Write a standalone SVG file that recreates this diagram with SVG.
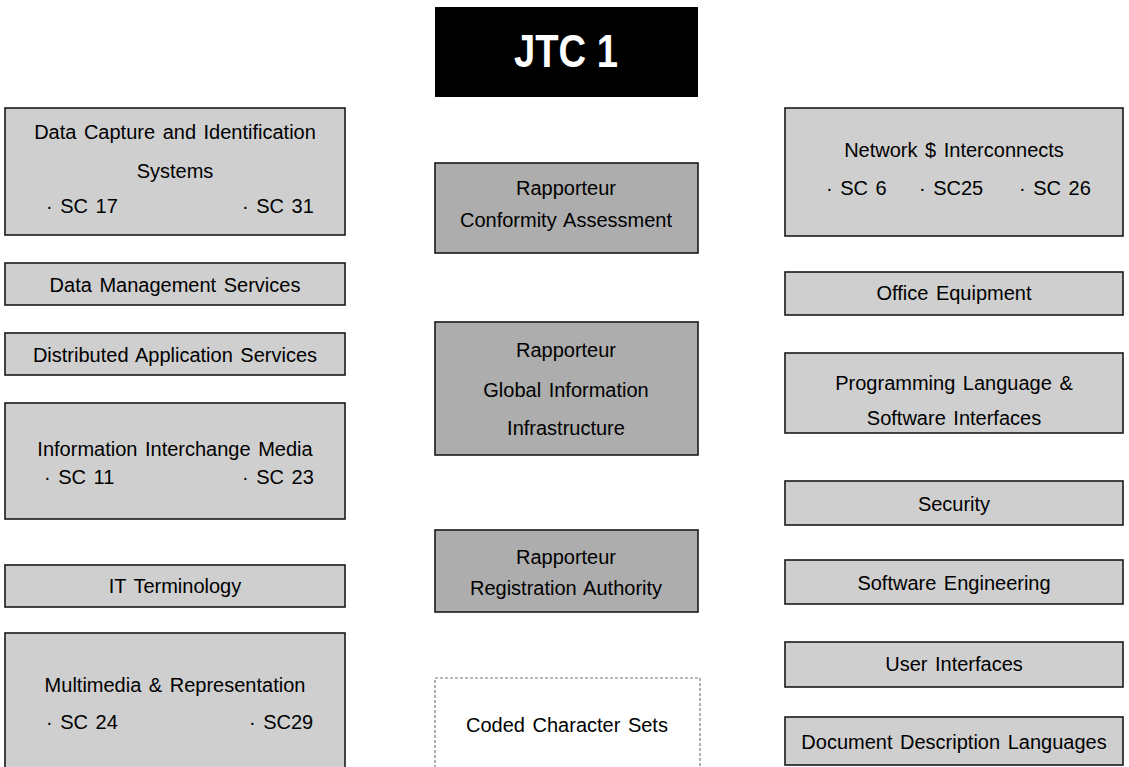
<svg xmlns="http://www.w3.org/2000/svg" width="1129" height="767" viewBox="0 0 1129 767">
<style>
.box{fill:#cfcfcf;stroke:#1a1a1a;stroke-width:1.6}
.rap{fill:#adadad;stroke:#1a1a1a;stroke-width:1.6}
.coded{fill:#ffffff;stroke:#777;stroke-width:1.2;stroke-dasharray:3 2}
.t{font-family:"Liberation Sans",Arial,sans-serif;font-size:20px;fill:#000;text-anchor:middle;word-spacing:2px}
.s{font-family:"Liberation Sans",Arial,sans-serif;font-size:20px;fill:#000;word-spacing:2px}
.jtc{font-family:"Liberation Sans",Arial,sans-serif;font-size:46px;font-weight:bold;fill:#fff;text-anchor:middle}
</style>
<rect width="1129" height="767" fill="#ffffff"/>
<g id="connectors"></g>
<g id="jtc1">
<rect x="435" y="7" width="263" height="90" fill="#000"/>
<text class="jtc" x="566" y="67" textLength="104" lengthAdjust="spacingAndGlyphs">JTC 1</text>
</g>
<g id="data-capture">
<rect class="box" x="5" y="108" width="340" height="127"/>
<text class="t" x="175" y="139">Data Capture and Identification</text>
<text class="t" x="175" y="178">Systems</text>
<text class="s" x="46" y="213">· SC 17</text>
<text class="s" x="242" y="213">· SC 31</text>
</g>
<g id="data-management">
<rect class="box" x="5" y="263" width="340" height="42"/>
<text class="t" x="175" y="292">Data Management Services</text>
</g>
<g id="distributed">
<rect class="box" x="5" y="333" width="340" height="42"/>
<text class="t" x="175" y="362">Distributed Application Services</text>
</g>
<g id="info-interchange">
<rect class="box" x="5" y="403" width="340" height="116"/>
<text class="t" x="175" y="456">Information Interchange Media</text>
<text class="s" x="44" y="484">· SC 11</text>
<text class="s" x="242" y="484">· SC 23</text>
</g>
<g id="it-terminology">
<rect class="box" x="5" y="565" width="340" height="42"/>
<text class="t" x="175" y="593">IT Terminology</text>
</g>
<g id="multimedia">
<rect class="box" x="5" y="633" width="340" height="150"/>
<text class="t" x="175" y="692">Multimedia &amp; Representation</text>
<text class="s" x="46" y="729">· SC 24</text>
<text class="s" x="249" y="729">· SC29</text>
</g>
<g id="rap-conformity">
<rect class="rap" x="435" y="163" width="263" height="90"/>
<text class="t" x="566" y="195">Rapporteur</text>
<text class="t" x="566" y="227">Conformity Assessment</text>
</g>
<g id="rap-gii">
<rect class="rap" x="435" y="322" width="263" height="133"/>
<text class="t" x="566" y="357">Rapporteur</text>
<text class="t" x="566" y="397">Global Information</text>
<text class="t" x="566" y="435">Infrastructure</text>
</g>
<g id="rap-registration">
<rect class="rap" x="435" y="530" width="263" height="82"/>
<text class="t" x="566" y="564">Rapporteur</text>
<text class="t" x="566" y="595">Registration Authority</text>
</g>
<g id="coded-character-sets">
<rect class="coded" x="435" y="678" width="265" height="110"/>
<text class="t" x="567" y="732">Coded Character Sets</text>
</g>
<g id="network">
<rect class="box" x="785" y="108" width="338" height="128"/>
<text class="t" x="954" y="157">Network $ Interconnects</text>
<text class="s" x="826" y="195">· SC 6</text>
<text class="s" x="919" y="195">· SC25</text>
<text class="s" x="1019" y="195">· SC 26</text>
</g>
<g id="office">
<rect class="box" x="785" y="272" width="338" height="43"/>
<text class="t" x="954" y="300">Office Equipment</text>
</g>
<g id="programming">
<rect class="box" x="785" y="353" width="338" height="80"/>
<text class="t" x="954" y="390">Programming Language &amp;</text>
<text class="t" x="954" y="425">Software Interfaces</text>
</g>
<g id="security">
<rect class="box" x="785" y="481" width="338" height="44"/>
<text class="t" x="954" y="511">Security</text>
</g>
<g id="software-engineering">
<rect class="box" x="785" y="560" width="338" height="44"/>
<text class="t" x="954" y="590">Software Engineering</text>
</g>
<g id="user-interfaces">
<rect class="box" x="785" y="642" width="338" height="45"/>
<text class="t" x="954" y="671">User Interfaces</text>
</g>
<g id="document-description">
<rect class="box" x="785" y="717" width="338" height="48"/>
<text class="t" x="954" y="749">Document Description Languages</text>
</g>
</svg>
